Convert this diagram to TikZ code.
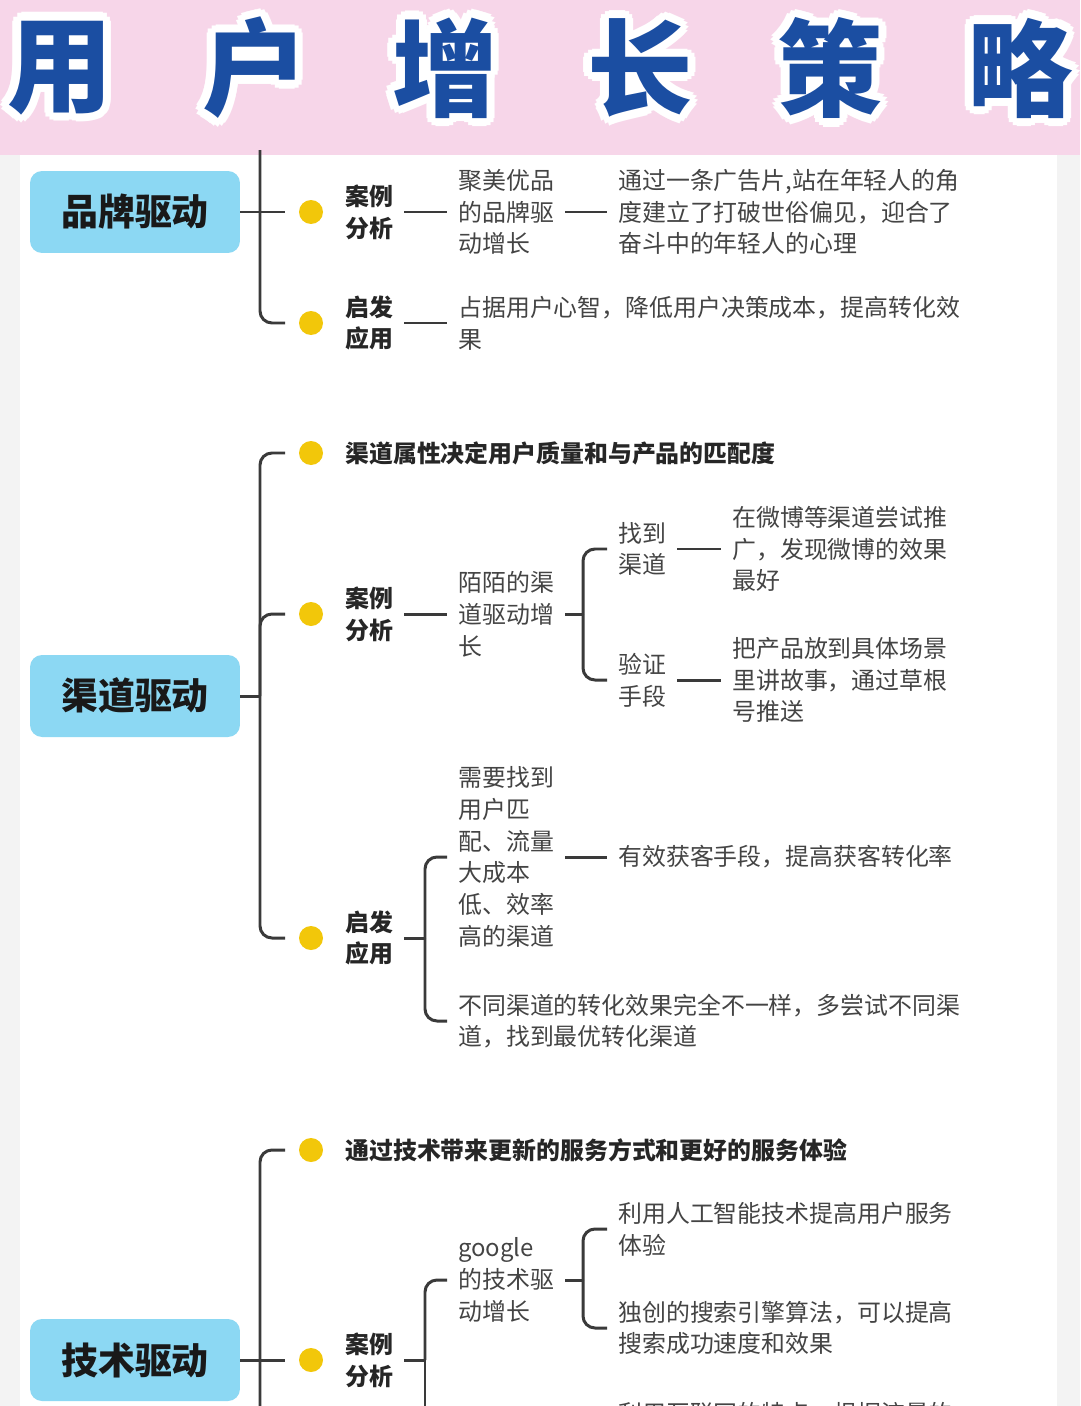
\documentclass[tikz,border=0pt]{standalone}
\usepackage{fontspec}
\newfontfamily\cjk{Noto Sans CJK SC}
\usetikzlibrary{positioning}
\definecolor{band}{HTML}{F7D6E9}
\definecolor{titleblue}{HTML}{1B4EA2}
\definecolor{boxblue}{HTML}{8CD8F3}
\definecolor{dotyellow}{HTML}{F2C70A}
\definecolor{linegray}{HTML}{3A3A3A}
\definecolor{pagegray}{HTML}{F3F3F3}
\definecolor{leafgray}{HTML}{444444}

\tikzset{
  titlechar/.style={inner sep=0pt, text=titleblue, font=\cjk\bfseries\fontsize{60}{60}\selectfont},
  topic/.style={fill=boxblue, rounded corners=0.24cm, minimum width=4.2cm, minimum height=1.64cm,
    font=\cjk\bfseries\fontsize{21}{25}\selectfont, text=black!90},
  dot/.style={circle, fill=dotyellow, minimum size=0.48cm, inner sep=0pt, outer sep=0.06cm},
  head/.style={anchor=west, inner sep=0pt, align=left, text=black!85,
    font=\cjk\bfseries\fontsize{13.6}{18.1}\selectfont},
  leaf/.style={anchor=west, inner sep=0pt, align=left, text=leafgray,
    font=\cjk\fontsize{13.6}{18.1}\selectfont},
  wire/.style={draw=linegray, line width=1.7pt},
  link/.style={wire, shorten <=0.22cm, shorten >=0.22cm},
  stem/.style={wire, shorten <=0.22cm},
  twig/.style={wire, shorten >=0.22cm, rounded corners=0.24cm}
}

\begin{document}
\begin{tikzpicture}[x=0.02cm, y=-0.02cm]
\useasboundingbox (0,0) rectangle (1080,1406);
\fill[pagegray] (0,0) rectangle (1080,1406);
\fill[white] (20,155) rectangle (1057,1406);
\fill[band] (0,0) rectangle (1080,155);

% title
\foreach \ch/\x [count=\i] in {用/60,户/255,增/445,长/640,策/830,略/1020} {
  \foreach \a in {0,30,...,330}
    \node[titlechar, text=white, shift={(\a:0.17cm)}] (halo\i-\a) at (\x,68) {\ch};
  \node[titlechar] (title\i) at (\x,68) {\ch};
}

% brand
\node[topic] (brand) at (135,212) {品牌驱动};
\coordinate (btop) at (260,150);
\node[dot] (bdot1) at (311,212) {};
\node[dot] (bdot2) at (311,323) {};
\node[head] (bcase) at (345,212) {案例\\分析};
\node[leaf] (bcasea) at (458,212) {聚美优品\\的品牌驱\\动增长};
\node[leaf] (bcaseb) at (618,212) {通过一条广告片,站在年轻人的角\\度建立了打破世俗偏见，迎合了\\奋斗中的年轻人的心理};
\node[head] (buse) at (345,323) {启发\\应用};
\node[leaf] (busea) at (458,323) {占据用户心智，降低用户决策成本，提高转化效\\果};

\draw[wire, shorten >=0.22cm] (brand.east) -- (bdot1.west);
\draw[twig] (btop) |- (bdot2.west);
\draw[link] (bcase.east) -- (bcasea.west);
\draw[link] (bcasea.east) -- (bcaseb.west);
\draw[link] (buse.east) -- (busea.west);

% channel
\node[topic] (channel) at (135,696) {渠道驱动};
\coordinate (cspine) at (260,696);
\node[dot] (cdot1) at (311,453) {};
\node[dot] (cdot2) at (311,614) {};
\node[dot] (cdot3) at (311,938) {};
\node[head] (cnote) at (345,453) {渠道属性决定用户质量和与产品的匹配度};
\node[head] (ccase) at (345,614) {案例\\分析};
\node[leaf] (ccasea) at (458,614) {陌陌的渠\\道驱动增\\长};
\coordinate (cfork) at (583,614);
\node[leaf] (cfind) at (618,549) {找到\\渠道};
\node[leaf] (cfinda) at (732,549) {在微博等渠道尝试推\\广，发现微博的效果\\最好};
\node[leaf] (ctest) at (618,680) {验证\\手段};
\node[leaf] (ctesta) at (732,680) {把产品放到具体场景\\里讲故事，通过草根\\号推送};
\node[head] (cuse) at (345,938) {启发\\应用};
\coordinate (cusefork) at (425,938);
\node[leaf] (cusea) at (458,857) {需要找到\\用户匹\\配、流量\\大成本\\低、效率\\高的渠道};
\node[leaf] (cuseb) at (618,857) {有效获客手段，提高获客转化率};
\node[leaf] (cusec) at (458,1021) {不同渠道的转化效果完全不一样，多尝试不同渠\\道，找到最优转化渠道};

\draw[wire] (channel.east) -- (cspine);
\draw[twig, shorten <=0.22cm] (cdot1.west) -| (cspine) |- (cdot3.west);
\draw[twig] (cspine) |- (cdot2.west);
\draw[link] (ccase.east) -- (ccasea.west);
\draw[stem] (ccasea.east) -- (cfork);
\draw[twig] (cfork) |- (cfind.west);
\draw[twig] (cfork) |- (ctest.west);
\draw[link] (cfind.east) -- (cfinda.west);
\draw[link] (ctest.east) -- (ctesta.west);
\draw[stem] (cuse.east) -- (cusefork);
\draw[twig] (cusefork) |- (cusea.west);
\draw[twig] (cusefork) |- (cusec.west);
\draw[link] (cusea.east) -- (cuseb.west);

% tech
\node[topic] (tech) at (135,1360) {技术驱动};
\coordinate (tend) at (260,1440);
\node[dot] (tdot1) at (311,1150) {};
\node[dot] (tdot2) at (311,1360) {};
\node[head] (tnote) at (345,1150) {通过技术带来更新的服务方式和更好的服务体验};
\node[head] (tcase) at (345,1360) {案例\\分析};
\coordinate (tfork) at (425,1360);
\coordinate (tforkend) at (425,1440);
\node[leaf] (tcasea) at (458,1280) {google\\的技术驱\\动增长};
\coordinate (tcasefork) at (583,1280);
\node[leaf] (tai) at (618,1229) {利用人工智能技术提高用户服务\\体验};
\node[leaf] (tsearch) at (618,1328) {独创的搜索引擎算法，可以提高\\搜索成功速度和效果};
\node[leaf, anchor=north west] (tnet) at (618,1402) {利用互联网的特点，根据流量的};

\draw[wire, shorten >=0.22cm] (tech.east) -- (tdot2.west);
\draw[twig] (tend) |- (tdot1.west);
\draw[stem] (tcase.east) -- (tfork);
\draw[wire] (tfork) -- (tforkend);
\draw[twig] (tfork) |- (tcasea.west);
\draw[stem] (tcasea.east) -- (tcasefork);
\draw[twig] (tcasefork) |- (tai.west);
\draw[twig] (tcasefork) |- (tsearch.west);

\end{tikzpicture}
\end{document}
